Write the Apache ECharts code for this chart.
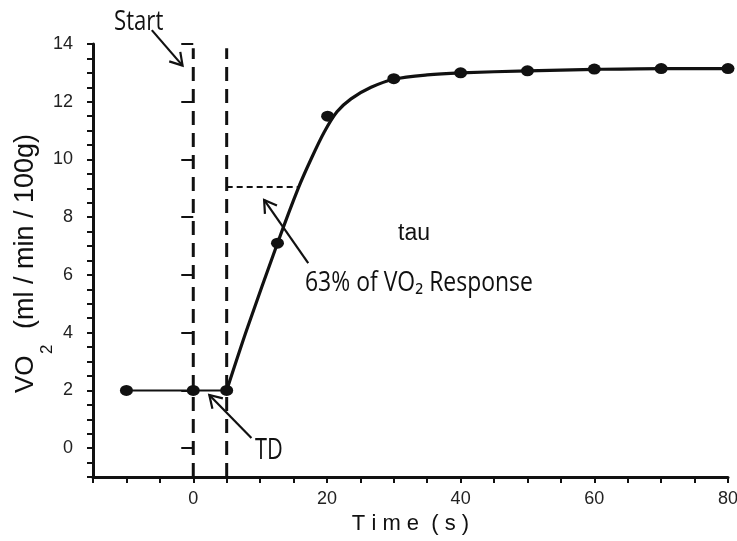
<!DOCTYPE html>
<html>
<head>
<meta charset="utf-8" />
<style>
  html, body { margin: 0; padding: 0; background: #fff; }
  #chart { width: 737px; height: 541px; }
</style>
<script src="https://cdn.jsdelivr.net/npm/echarts@6/dist/echarts.min.js"></script>
</head>
<body>
<div id="chart"></div>
<script>
// measured points (time s, VO2 ml/min/100g)
const pointTime = [-10, 0, 5, 12.6, 20.1, 30, 40, 50, 60, 70, 80];
const pointVO2 = [2, 2, 2, 7.1, 11.5, 12.8, 13.0, 13.07, 13.13, 13.15, 13.15];

// baseline before the time delay
const baseTime = [-10, 5];
const baseVO2 = [2, 2];

// fitted response curve
const fitTime = [5, 8, 12.6, 15.7, 17.7, 19.6, 21.5, 23.6, 26.6, 30, 35, 40, 50, 60, 70, 80];
const fitVO2 = [2, 4.1, 7.1, 9.0, 10.05, 10.95, 11.65, 12.1, 12.5, 12.78, 12.93, 13.0, 13.07, 13.12, 13.15, 13.15];

// guide lines
const startLine = [[0, -1], [0, 13.85]];
const tdLine = [[5, -1], [5, 13.85]];
const tauLine = [[5, 9.05], [15.8, 9.05]];

// annotation arrows [tail, tip]
const arrows = [
  [[-6.2, 14.48], [-1.6, 13.25]],
  [[8.7, 0.35], [2.4, 1.84]],
  [[17.2, 6.41], [10.6, 8.6]],
];

const yMajor = [0, 2, 4, 6, 8, 10, 12, 14];

const black = "#111";
const annoFont = '"Open Sans", "Noto Sans", sans-serif';

function zip(xs, ys) {
  return xs.map((x, i) => [x, ys[i]]);
}

function dashed(name, data, type, width) {
  return {
    name,
    type: "line",
    data,
    symbol: "none",
    silent: true,
    z: 1,
    lineStyle: { color: black, width, type },
  };
}

function text(x, y, content, font, extra) {
  return Object.assign({
    type: "text",
    x,
    y,
    silent: true,
    style: { text: content, font, fill: black, align: "left", verticalAlign: "middle" },
  }, extra || {});
}

const chart = echarts.init(document.getElementById("chart"), null, { renderer: "canvas" });

chart.setOption({
  animation: false,
  backgroundColor: "#fff",
  grid: { left: 93, right: 9, top: 44, bottom: 64, outerBoundsMode: "none" },
  xAxis: {
    type: "value",
    min: -15,
    max: 80,
    interval: 5,
    name: "T i m e  ( s )",
    nameLocation: "middle",
    nameGap: 31,
    nameTextStyle: { fontFamily: "Liberation Sans", fontSize: 22, color: black },
    axisLine: { onZero: false, lineStyle: { color: black, width: 3 } },
    axisTick: { length: 6, lineStyle: { color: black, width: 2 } },
    axisLabel: {
      margin: 13,
      fontFamily: "Liberation Sans",
      fontSize: 18,
      color: "#222",
      formatter: (v) => (v % 20 === 0 ? String(v) : ""),
    },
    splitLine: { show: false },
  },
  yAxis: [
    {
      type: "value",
      min: -1,
      max: 14,
      interval: 0.5,
      axisLine: { onZero: false, lineStyle: { color: black, width: 3 } },
      axisTick: { length: 6, lineStyle: { color: black, width: 2 } },
      axisLabel: {
        margin: 20,
        fontFamily: "Liberation Sans",
        fontSize: 18,
        color: "#222",
        formatter: (v) => (yMajor.includes(v) ? String(v) : ""),
      },
      splitLine: { show: false },
    },
    {
      type: "value",
      position: "left",
      min: -1,
      max: 14,
      interval: 0.5,
      axisLine: { show: false },
      axisTick: { customValues: yMajor, length: 12, lineStyle: { color: black, width: 2 } },
      axisLabel: { show: false },
      splitLine: { show: false },
    },
  ],
  series: [
    dashed("start", startLine, [14, 8], 3),
    dashed("td", tdLine, [14, 8], 3),
    dashed("tau", tauLine, [6, 4], 2),
    {
      name: "baseline",
      type: "line",
      data: zip(baseTime, baseVO2),
      symbol: "none",
      silent: true,
      z: 2,
      lineStyle: { color: black, width: 2 },
    },
    {
      name: "fit",
      type: "line",
      data: zip(fitTime, fitVO2),
      symbol: "none",
      smooth: 0.3,
      silent: true,
      z: 2,
      lineStyle: { color: black, width: 3.2 },
    },
    {
      name: "measured",
      type: "scatter",
      data: zip(pointTime, pointVO2),
      symbol: "circle",
      symbolSize: [13, 11],
      silent: true,
      z: 3,
      itemStyle: { color: black, opacity: 1 },
    },
  ],
});

// arrows go through the axes' scales, they may leave the plot area
function arrowGraphic([tail, tip]) {
  const p0 = chart.convertToPixel({ gridIndex: 0 }, tail);
  const p1 = chart.convertToPixel({ gridIndex: 0 }, tip);
  const ang = Math.atan2(p0[1] - p1[1], p0[0] - p1[0]);
  const arm = (d) => [p1[0] + 14 * Math.cos(ang + d), p1[1] + 14 * Math.sin(ang + d)];
  const style = { stroke: black, lineWidth: 2.2, fill: null };
  return [
    { type: "line", silent: true, z: 10, shape: { x1: p0[0], y1: p0[1], x2: p1[0], y2: p1[1] }, style },
    { type: "polyline", silent: true, z: 10, shape: { points: [arm(0.55), p1, arm(-0.55)] }, style },
  ];
}

chart.setOption({
  graphic: [
    ...arrows.flatMap(arrowGraphic),
    text(114, 22, "Start", `27px ${annoFont}`, { scaleX: 0.82 }),
    text(255, 451, "TD", `29px ${annoFont}`, { scaleX: 0.75 }),
    text(398, 234, "tau", '23px "Liberation Sans"'),
    text(305, 283, "63% of VO₂ Response", `27px ${annoFont}`, { scaleX: 0.85 }),
    {
      type: "group",
      x: 0,
      y: 393,
      rotation: Math.PI / 2,
      silent: true,
      children: [
        text(0, 26, "VO", '26px "Liberation Sans"'),
        text(39, 47.5, "2", '17px "Liberation Sans"'),
        text(64, 26, "(ml / min / 100g)", '27px "Liberation Sans"'),
      ],
    },
  ],
});
</script>
</body>
</html>
